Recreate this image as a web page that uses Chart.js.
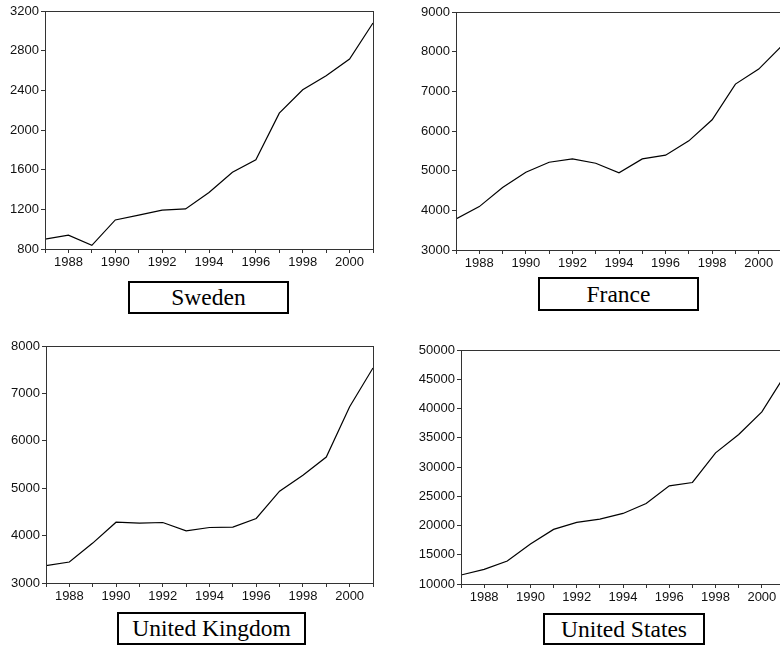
<!DOCTYPE html>
<html>
<head>
<meta charset="utf-8">
<script src="https://cdn.jsdelivr.net/npm/chart.js@4"></script>
<style>
  html, body { margin: 0; padding: 0; background: #fff; overflow: hidden; width: 780px; height: 646px; }
  .panel { position: absolute; }
  .tag {
    position: absolute; box-sizing: border-box; border: 2px solid #000;
    display: flex; align-items: center; justify-content: center;
    font-family: 'Liberation Serif', 'Times New Roman', serif; font-size: 23.5px; color: #000;
    background: #fff;
  }
</style>
</head>
<body>
<canvas id="cSweden" class="panel"></canvas>
<canvas id="cFrance" class="panel"></canvas>
<canvas id="cUK" class="panel"></canvas>
<canvas id="cUS" class="panel"></canvas>

<div class="tag" style="left:128px;top:281px;width:161px;height:33px;">Sweden</div>
<div class="tag" style="left:538px;top:277px;width:161px;height:34px;">France</div>
<div class="tag" style="left:117px;top:612px;width:189px;height:33px;">United Kingdom</div>
<div class="tag" style="left:543px;top:613px;width:162px;height:32px;">United States</div>

<script>
// Years on the horizontal axis
const years = [1987, 1988, 1989, 1990, 1991, 1992, 1993, 1994, 1995, 1996, 1997, 1998, 1999, 2000, 2001];

// Series, one per country
const sweden = [900, 940, 837, 1093, 1142, 1192, 1204, 1369, 1574, 1699, 2170, 2406, 2547, 2715, 3079];
const france = [3783, 4094, 4574, 4961, 5213, 5297, 5188, 4944, 5297, 5390, 5752, 6282, 7182, 7561, 8150];
const uk     = [3365, 3442, 3842, 4283, 4262, 4276, 4101, 4171, 4178, 4361, 4936, 5272, 5658, 6717, 7537];
const us     = [11536, 12504, 13926, 16828, 19332, 20527, 21096, 22063, 23770, 26786, 27355, 32419, 35548, 39417, 45700];

// Value axis ranges: [min, max, step]
const swedenAxis = [800, 3200, 400];
const franceAxis = [3000, 9000, 1000];
const ukAxis     = [3000, 8000, 1000];
const usAxis     = [10000, 50000, 5000];

Chart.defaults.font.family = "'Liberation Sans', Arial, sans-serif";
Chart.defaults.font.size = 13;
Chart.defaults.color = '#111';

// Box round the plot area
const framePlugin = {
  id: 'frame',
  afterDraw(chart) {
    const a = chart.chartArea, ctx = chart.ctx;
    ctx.save();
    ctx.strokeStyle = '#333';
    ctx.lineWidth = 1;
    ctx.strokeRect(Math.round(a.left) + 0.5, Math.round(a.top) + 0.5,
                   Math.round(a.right - a.left), Math.round(a.bottom - a.top));
    ctx.restore();
  }
};

function panel(id, pos, values, axis) {
  const cv = document.getElementById(id);
  cv.width = pos.w; cv.height = pos.h;
  cv.style.left = pos.x + 'px'; cv.style.top = pos.y + 'px';
  cv.style.width = pos.w + 'px'; cv.style.height = pos.h + 'px';
  const [ymin, ymax, ystep] = axis;
  new Chart(cv, {
    type: 'line',
    data: {
      datasets: [{
        data: years.map((yr, i) => ({ x: yr, y: values[i] })),
        borderColor: '#000',
        borderWidth: 1.2,
        pointRadius: 0,
        tension: 0,
        fill: false
      }]
    },
    options: {
      responsive: false,
      animation: false,
      events: [],
      layout: { padding: { top: pos.top, right: pos.w - pos.right, left: 0, bottom: 0 } },
      plugins: { legend: { display: false }, tooltip: { enabled: false } },
      scales: {
        x: {
          type: 'linear',
          min: years[0], max: years[years.length - 1],
          afterFit(s) { s.height = pos.h - pos.bottom; },
          grid: { drawOnChartArea: false, drawTicks: true, tickLength: 4, color: '#333' },
          border: { display: true, color: '#333' },
          ticks: {
            stepSize: 1, autoSkip: false, maxRotation: 0, padding: 2,
            callback: v => (v % 2 === 0 ? String(v) : '')
          }
        },
        y: {
          min: ymin, max: ymax,
          afterFit(s) { s.width = pos.left; },
          grid: { drawOnChartArea: false, drawTicks: true, tickLength: 4, color: '#333' },
          border: { display: true, color: '#333' },
          ticks: { stepSize: ystep, padding: 2, callback: v => String(v) }
        }
      }
    },
    plugins: [framePlugin]
  });
}

panel('cSweden', { x: 0,   y: 0,   w: 390, h: 276, left: 45,  top: 11, right: 373, bottom: 249 }, sweden, swedenAxis);
panel('cFrance', { x: 390, y: 0,   w: 410, h: 276, left: 66,  top: 12, right: 392, bottom: 250 }, france, franceAxis);
panel('cUK',     { x: 0,   y: 320, w: 390, h: 290, left: 46,  top: 26, right: 373, bottom: 263 }, uk, ukAxis);
panel('cUS',     { x: 390, y: 320, w: 410, h: 290, left: 71,  top: 30, right: 395, bottom: 264 }, us, usAxis);
</script>
</body>
</html>
